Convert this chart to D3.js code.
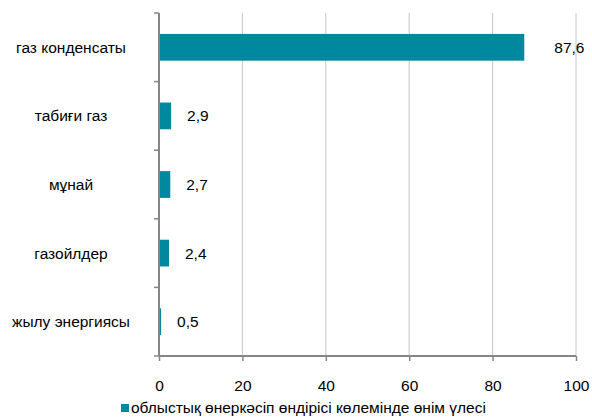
<!DOCTYPE html>
<html lang="kk">
<head>
<meta charset="UTF-8">
<title>bar</title>
<script src="https://cdn.jsdelivr.net/npm/d3@7/dist/d3.min.js"></script>
<style>
  body { margin: 0; background: #fff; }
  text { font-family: "Liberation Sans", Arial, sans-serif; fill: #000; }
</style>
</head>
<body>
<svg width="592" height="417" id="mainsvg"></svg>
<script>
const categories = ["газ конденсаты", "табиғи газ", "мұнай", "газойлдер", "жылу энергиясы"];
const values = [87.6, 2.9, 2.7, 2.4, 0.5];
const valueLabels = ["87,6", "2,9", "2,7", "2,4", "0,5"];
const xTicks = [0, 20, 40, 60, 80, 100];
const seriesName = "облыстық өнеркәсіп өндірісі көлемінде өнім үлесі";

const svg = d3.select('#mainsvg');
const margin = { top: 13, right: 16, bottom: 61, left: 159 };
const innerWidth = 592 - margin.left - margin.right;
const innerHeight = 417 - margin.top - margin.bottom;
const fontSize = 15.5;
const g = svg.append('g').attr('transform', `translate(${margin.left}, ${margin.top})`);

const xScale = d3.scaleLinear().domain([0, 100]).range([0, innerWidth]);
const yScale = d3.scaleBand().domain(categories).range([0, innerHeight]).paddingInner(0.61).paddingOuter(0.305);
const band = d3.scaleBand().domain(categories).range([0, innerHeight]);
const barColor = '#00889e';

// gridlines
g.selectAll('.grid').data(xTicks.slice(1)).join('line')
    .attr('class', 'grid')
    .attr('x1', d => xScale(d)).attr('x2', d => xScale(d))
    .attr('y1', 0).attr('y2', innerHeight)
    .attr('stroke', '#c6c6c6').attr('stroke-width', 1);

// bars
g.selectAll('.bar').data(values).join('rect')
    .attr('class', 'bar')
    .attr('x', 0)
    .attr('y', (d, i) => yScale(categories[i]))
    .attr('width', d => xScale(d))
    .attr('height', yScale.bandwidth())
    .attr('fill', barColor);

// value labels
g.selectAll('.vlabel').data(values).join('text')
    .attr('class', 'vlabel')
    .attr('x', d => xScale(d) + (d > 50 ? 30 : 16))
    .attr('y', (d, i) => yScale(categories[i]) + yScale.bandwidth() / 2)
    .attr('dy', '0.35em')
    .attr('font-size', fontSize)
    .text((d, i) => valueLabels[i]);

// x axis
const xAxis = d3.axisBottom(xScale).tickValues(xTicks).tickSize(5).tickPadding(19).tickFormat(d3.format('d'));
const xg = g.append('g').attr('transform', `translate(0, ${innerHeight})`).call(xAxis);
xg.select('.domain').attr('stroke', '#868686').attr('stroke-width', 2).attr('d', `M0,0H${innerWidth}`);
xg.selectAll('.tick line').attr('stroke', '#868686').attr('stroke-width', 1.5);
xg.selectAll('.tick text').attr('font-size', fontSize).attr('font-family', '"Liberation Sans", Arial, sans-serif');

// y axis
const yg = g.append('g');
yg.append('line').attr('x1', 0).attr('x2', 0).attr('y1', 0).attr('y2', innerHeight)
    .attr('stroke', '#868686').attr('stroke-width', 2);
const yTickPos = categories.map(c => band(c)).concat([innerHeight]);
yg.selectAll('.ytick').data(yTickPos).join('line')
    .attr('class', 'ytick')
    .attr('x1', -5).attr('x2', 0)
    .attr('y1', d => d).attr('y2', d => d)
    .attr('stroke', '#868686').attr('stroke-width', 1.5);
yg.selectAll('.ylabel').data(categories).join('text')
    .attr('class', 'ylabel')
    .attr('x', 71 - margin.left)
    .attr('y', d => band(d) + band.bandwidth() / 2)
    .attr('dy', '0.35em')
    .attr('text-anchor', 'middle')
    .attr('font-size', fontSize)
    .text(d => d);

// legend
const lg = svg.append('g').attr('transform', 'translate(121, 404)');
lg.append('rect').attr('x', 0).attr('y', 0).attr('width', 8).attr('height', 8).attr('fill', barColor);
lg.append('text').attr('x', 10).attr('y', 9).attr('font-size', fontSize).text(seriesName);
</script>
</body>
</html>
